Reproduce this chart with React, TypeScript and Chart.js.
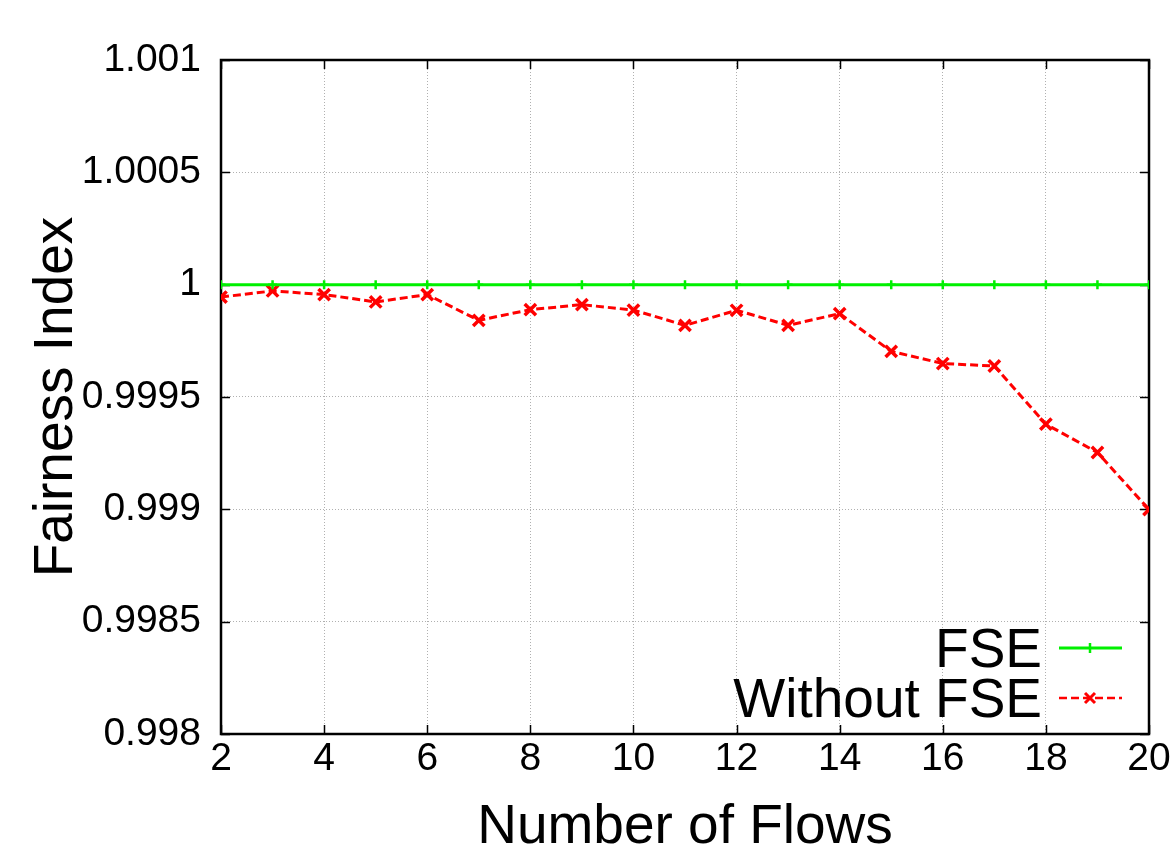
import React, { useEffect, useRef } from "react";
import { Chart, registerables } from "chart.js";

Chart.register(...registerables);

const flows = [2, 3, 4, 5, 6, 7, 8, 9, 10, 11, 12, 13, 14, 15, 16, 17, 18, 19, 20];
const fseValues = [1, 1, 1, 1, 1, 1, 1, 1, 1, 1, 1, 1, 1, 1, 1, 1, 1, 1, 1];
const withoutFseValues = [
  0.999945, 0.999972, 0.999956, 0.999923, 0.999956, 0.999841, 0.999889, 0.999911, 0.999887,
  0.999819, 0.999886, 0.999819, 0.999871, 0.999703, 0.999649, 0.999638, 0.999379, 0.999253,
  0.998999,
];
const xTicks = [2, 4, 6, 8, 10, 12, 14, 16, 18, 20];
const yTicks = [0.998, 0.9985, 0.999, 0.9995, 1, 1.0005, 1.001];
const yTickLabels = ["0.998", "0.9985", "0.999", "0.9995", "1", "1.0005", "1.001"];
const legendLabels = ["FSE", "Without FSE"];

const FONT = "'Liberation Sans', Arial, Helvetica, sans-serif";
const GREEN = "#00f000";
const RED = "#ff0000";

const framePlugin = {
  id: "gnuFrame",
  beforeDatasetsDraw(chart: any) {
    const { ctx, chartArea: a, scales } = chart;
    const tl = 9;
    ctx.save();
    ctx.strokeStyle = "#000";
    ctx.lineWidth = 1.5;
    ctx.setLineDash([]);
    ctx.beginPath();
    for (const v of yTicks) {
      const y = Math.round(scales.y.getPixelForValue(v)) + 0.5;
      ctx.moveTo(a.left, y);
      ctx.lineTo(a.left + tl, y);
      ctx.moveTo(a.right, y);
      ctx.lineTo(a.right - tl, y);
    }
    for (const v of xTicks) {
      const x = Math.round(scales.x.getPixelForValue(v)) + 0.5;
      ctx.moveTo(x, a.bottom);
      ctx.lineTo(x, a.bottom - tl);
      ctx.moveTo(x, a.top);
      ctx.lineTo(x, a.top + tl);
    }
    ctx.stroke();
    ctx.lineWidth = 2.5;
    ctx.strokeRect(a.left, a.top, a.right - a.left, a.bottom - a.top);
    ctx.restore();
  },
  afterDraw(chart: any) {
    const { ctx } = chart;
    ctx.save();
    ctx.font = `55px ${FONT}`;
    ctx.fillStyle = "#000";
    ctx.textAlign = "right";
    ctx.textBaseline = "alphabetic";
    const rows = [
      { label: legendLabels[0], y: 648, color: GREEN, dash: [] as number[], mark: "plus" },
      { label: legendLabels[1], y: 698, color: RED, dash: [8, 4], mark: "x" },
    ];
    for (const r of rows) {
      ctx.fillText(r.label, 1042, r.y + 19);
      ctx.strokeStyle = r.color;
      ctx.lineWidth = r.mark === "plus" ? 3 : 2.5;
      ctx.setLineDash(r.dash);
      ctx.beginPath();
      ctx.moveTo(1059, r.y);
      ctx.lineTo(1122, r.y);
      ctx.stroke();
      ctx.setLineDash([]);
      ctx.beginPath();
      const cx = 1090;
      if (r.mark === "plus") {
        ctx.lineWidth = 2.5;
        ctx.moveTo(cx, r.y - 5);
        ctx.lineTo(cx, r.y + 5);
      } else {
        ctx.lineWidth = 3;
        ctx.moveTo(cx - 5, r.y - 5);
        ctx.lineTo(cx + 5, r.y + 5);
        ctx.moveTo(cx - 5, r.y + 5);
        ctx.lineTo(cx + 5, r.y - 5);
      }
      ctx.stroke();
    }
    ctx.restore();
  },
};

export default function App() {
  const canvasRef = useRef<HTMLCanvasElement | null>(null);

  useEffect(() => {
    if (!canvasRef.current) return;
    const chart = new Chart(canvasRef.current, {
      type: "line",
      data: {
        datasets: [
          {
            label: legendLabels[0],
            data: flows.map((f, i) => ({ x: f, y: fseValues[i] })),
            borderColor: GREEN,
            backgroundColor: GREEN,
            borderWidth: 3,
            pointStyle: "cross",
            pointRadius: 4.5,
            pointBorderWidth: 2.5,
            pointBorderColor: GREEN,
            fill: false,
            tension: 0,
          },
          {
            label: legendLabels[1],
            data: flows.map((f, i) => ({ x: f, y: withoutFseValues[i] })),
            borderColor: RED,
            backgroundColor: RED,
            borderWidth: 3,
            borderDash: [8, 4],
            pointStyle: "crossRot",
            pointRadius: 8,
            pointBorderWidth: 3.5,
            pointBorderColor: RED,
            fill: false,
            tension: 0,
          },
        ],
      },
      options: {
        animation: false,
        responsive: false,
        maintainAspectRatio: false,
        devicePixelRatio: 1,
        layout: { padding: { top: 60, right: 25, left: 0, bottom: 0 } },
        plugins: {
          legend: { display: false },
          tooltip: { enabled: false },
        },
        scales: {
          x: {
            type: "linear",
            min: 2,
            max: 20,
            afterBuildTicks: (scale: any) => {
              scale.ticks = xTicks.map((v) => ({ value: v }));
            },
            afterFit: (scale: any) => {
              scale.height = 111;
            },
            ticks: {
              color: "#000",
              font: { family: FONT, size: 39 },
              padding: 2,
              maxRotation: 0,
              autoSkip: false,
              callback: (v: any) => String(v),
            },
            grid: {
              color: "#b0b0b0",
              lineWidth: 1,
              drawTicks: false,
            },
            border: { display: false, dash: [1, 2] },
            title: {
              display: true,
              text: "Number of Flows",
              color: "#000",
              font: { family: FONT, size: 55, lineHeight: 0.62 },
              padding: { top: 0, bottom: 0 },
            },
          },
          y: {
            type: "linear",
            min: 0.998,
            max: 1.001,
            afterBuildTicks: (scale: any) => {
              scale.ticks = yTicks.map((v) => ({ value: v }));
            },
            afterFit: (scale: any) => {
              scale.width = 221;
            },
            ticks: {
              color: "#000",
              font: { family: FONT, size: 39 },
              padding: 20,
              autoSkip: false,
              callback: (v: any) => {
                const idx = yTicks.findIndex((t) => Math.abs(t - v) < 1e-9);
                return idx >= 0 ? yTickLabels[idx] : "";
              },
            },
            grid: {
              color: "#b0b0b0",
              lineWidth: 1,
              drawTicks: false,
            },
            border: { display: false, dash: [1, 2] },
            title: {
              display: true,
              text: "Fairness Index",
              color: "#000",
              font: { family: FONT, size: 55, lineHeight: 1.2 },
              padding: { top: 24, bottom: 0 },
            },
          },
        },
      },
      plugins: [framePlugin],
    } as any);
    return () => chart.destroy();
  }, []);

  return (
    <div style={{ position: "fixed", left: 0, top: 0, width: 1174, height: 845, background: "#fff" }}>
      <canvas ref={canvasRef} width={1174} height={845} style={{ width: 1174, height: 845 }} />
    </div>
  );
}
